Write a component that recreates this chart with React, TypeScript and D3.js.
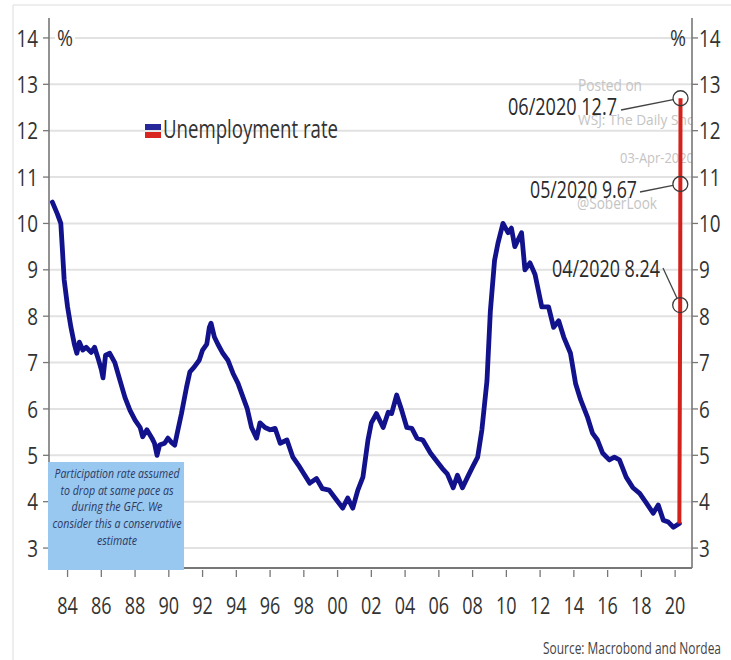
import React from 'react';
import * as d3 from 'd3';

// ---- data ----
const blueYears = [
  1983.1, 1983.4, 1983.6, 1983.7, 1983.8, 1984.0, 1984.2, 1984.4, 1984.55, 1984.7, 1984.9,
  1985.1, 1985.4, 1985.6, 1985.8, 1986.0, 1986.1, 1986.25, 1986.5, 1986.8, 1987.1, 1987.4,
  1987.7, 1988.0, 1988.3, 1988.45, 1988.7, 1989.0, 1989.15, 1989.3, 1989.45, 1989.75, 1989.95,
  1990.15, 1990.35, 1990.5, 1990.75, 1991.05, 1991.25, 1991.5, 1991.8, 1992.0, 1992.25, 1992.4,
  1992.5, 1992.7, 1992.9, 1993.2, 1993.5, 1993.8, 1994.1, 1994.4, 1994.65, 1994.9, 1995.2,
  1995.4, 1995.7, 1996.0, 1996.3, 1996.6, 1997.0, 1997.35, 1997.75, 1998.0, 1998.35, 1998.75,
  1999.1, 1999.5, 1999.95, 2000.3, 2000.6, 2000.9, 2001.2, 2001.5, 2001.8, 2002.0, 2002.3,
  2002.7, 2003.0, 2003.2, 2003.5, 2003.8, 2004.1, 2004.4, 2004.7, 2005.05, 2005.5, 2005.9,
  2006.2, 2006.5, 2006.85, 2007.1, 2007.4, 2007.7, 2008.0, 2008.3, 2008.55, 2008.85, 2009.05,
  2009.3, 2009.5, 2009.8, 2010.1, 2010.3, 2010.5, 2010.9, 2011.1, 2011.4, 2011.7, 2012.1,
  2012.5, 2012.8, 2013.1, 2013.4, 2013.8, 2014.1, 2014.4, 2014.8, 2015.1, 2015.4, 2015.7,
  2016.1, 2016.4, 2016.7, 2017.1, 2017.5, 2017.9, 2018.3, 2018.7, 2019.0, 2019.3, 2019.6,
  2019.9, 2020.25,
];
const blueRates = [
  10.46, 10.2, 10.0, 9.4, 8.78, 8.2, 7.76, 7.4, 7.2, 7.44, 7.27,
  7.33, 7.22, 7.33, 7.1, 6.85, 6.67, 7.16, 7.2, 7.0, 6.62, 6.25,
  5.97, 5.76, 5.6, 5.4, 5.55, 5.37, 5.26, 5.0, 5.22, 5.26, 5.37,
  5.28, 5.22, 5.48, 5.9, 6.47, 6.8, 6.9, 7.05, 7.27, 7.4, 7.76,
  7.85, 7.55, 7.4, 7.2, 7.05, 6.77, 6.55, 6.25, 6.0, 5.6, 5.37,
  5.7, 5.6, 5.55, 5.58, 5.26, 5.33, 4.96, 4.75, 4.6, 4.4, 4.5,
  4.28, 4.25, 4.03, 3.86, 4.08, 3.86, 4.25, 4.53, 5.33, 5.7, 5.9,
  5.6, 5.93, 5.9, 6.3, 5.97, 5.6, 5.58, 5.37, 5.33, 5.05, 4.86,
  4.72, 4.6, 4.3, 4.57, 4.3, 4.53, 4.75, 4.96, 5.55, 6.6, 8.1,
  9.2, 9.57, 10.0, 9.8, 9.9, 9.5, 9.8, 9.0, 9.15, 8.9, 8.2,
  8.2, 7.76, 7.9, 7.55, 7.2, 6.55, 6.2, 5.83, 5.48, 5.33, 5.05,
  4.9, 4.96, 4.9, 4.53, 4.3, 4.18, 3.97, 3.75, 3.93, 3.6, 3.56,
  3.45, 3.53,
];
const redYears = [2020.25, 2020.3, 2020.31, 2020.32];
const redRates = [3.53, 8.24, 10.85, 12.7];
const annotationLabels = ['04/2020 8.24', '05/2020 9.67', '06/2020 12.7'];
const yTicks = [3, 4, 5, 6, 7, 8, 9, 10, 11, 12, 13, 14];
const xTickYears = [1984, 1986, 1988, 1990, 1992, 1994, 1996, 1998, 2000, 2002, 2004, 2006, 2008, 2010, 2012, 2014, 2016, 2018, 2020];
const xTickLabels = ['84', '86', '88', '90', '92', '94', '96', '98', '00', '02', '04', '06', '08', '10', '12', '14', '16', '18', '20'];
const legendLabel = 'Unemployment rate';
const noteLines = ['Participation rate assumed', 'to drop at same pace as', 'during the GFC. We', 'consider this a conservative', 'estimate'];
const sourceText = 'Source: Macrobond and Nordea';
const watermarkLines = ['Posted on', 'WSJ: The Daily Shot', '03-Apr-2020', '@SoberLook'];

const FONT = "'Liberation Sans Narrow', 'Open Sans', 'DejaVu Sans', sans-serif";

export default function App() {
  const W = 731, H = 660;
  const left = 49, right = 692, top = 18, bottom = 568;
  const x = d3.scaleLinear().domain([1982.9, 2021.0]).range([left, right]);
  const y = d3.scaleLinear().domain([2.57, 14.43]).range([bottom, top]);

  const line = d3.line<[number, number]>().x(d => x(d[0])).y(d => y(d[1]));
  const bluePts: [number, number][] = blueYears.map((yr, i) => [yr, blueRates[i]]);
  const redPts: [number, number][] = redYears.map((yr, i) => [yr, redRates[i]]);

  const digitW = 10.8;

  // annotation layout: text start x, text width, baseline, leader start
  const annLayout = [
    { tx: 552, tw: 108, by: 277, lx: 663, ly: 268 },
    { tx: 530, tw: 107, by: 198, lx: 640, ly: 192 },
    { tx: 508, tw: 109, by: 115, lx: 621, ly: 110 },
  ];
  const r = 7.5;

  const wm = [
    { x: 578, y: 91, fs: 17, w: 64 },
    { x: 578, y: 125, fs: 14, w: 122 },
    { x: 620, y: 163, fs: 14, w: 74 },
    { x: 577, y: 209, fs: 16, w: 80 },
  ];
  const noteW = [125, 113, 91, 129, 40];

  return (
    <svg width={W} height={H} style={{ position: 'absolute', left: 0, top: 0, background: '#fff' }} fontFamily={FONT}>
      <defs>
        <clipPath id="plotclip">
          <rect x={left} y={top} width={right - left} height={bottom - top} />
        </clipPath>
      </defs>
      {/* faint frame */}
      <line x1={13} y1={5} x2={W} y2={5} stroke="#e8e8e8" strokeWidth={1.5} />
      <line x1={13} y1={5} x2={13} y2={H} stroke="#e8e8e8" strokeWidth={1.5} />

      {/* gridlines */}
      {yTicks.map(t => (
        <line key={'g' + t} x1={left} x2={right} y1={y(t)} y2={y(t)} stroke="#e2e2e2" strokeWidth={2} />
      ))}

      {/* watermark */}
      <g clipPath="url(#plotclip)" fill="#c4c4c4">
        {watermarkLines.map((s, i) => (
          <text key={s} x={wm[i].x} y={wm[i].y} fontSize={wm[i].fs} textLength={wm[i].w} lengthAdjust="spacingAndGlyphs">{s}</text>
        ))}
      </g>

      {/* % labels */}
      <rect x={55} y={26} width={20} height={22} fill="#fff" />
      <text x={57} y={46} fontSize={22} fill="#333" textLength={16} lengthAdjust="spacingAndGlyphs">%</text>
      <text x={670} y={46} fontSize={22} fill="#333" textLength={16} lengthAdjust="spacingAndGlyphs">%</text>

      {/* axes */}
      <line x1={left} x2={left} y1={top} y2={bottom} stroke="#777" strokeWidth={1.6} />
      <line x1={right} x2={right} y1={top} y2={bottom} stroke="#777" strokeWidth={1.6} />
      <line x1={left} x2={right} y1={bottom} y2={bottom} stroke="#777" strokeWidth={1.8} />
      {yTicks.map(t => (
        <g key={'yt' + t}>
          <line x1={left - 6} x2={left} y1={y(t)} y2={y(t)} stroke="#777" strokeWidth={1.3} />
          <line x1={right} x2={right + 6} y1={y(t)} y2={y(t)} stroke="#777" strokeWidth={1.3} />
          <text x={38} y={y(t)} dy="0.36em" fontSize={24} fill="#333" textAnchor="end"
            textLength={String(t).length * digitW} lengthAdjust="spacingAndGlyphs">{t}</text>
          <text x={699} y={y(t)} dy="0.36em" fontSize={24} fill="#333"
            textLength={String(t).length * digitW} lengthAdjust="spacingAndGlyphs">{t}</text>
        </g>
      ))}
      {xTickYears.map((yr, i) => (
        <g key={'xt' + yr}>
          <line x1={x(yr)} x2={x(yr)} y1={bottom + 2} y2={bottom + 9} stroke="#777" strokeWidth={1.3} />
          <text x={x(yr)} y={614} fontSize={24} fill="#333" textAnchor="middle"
            textLength={2 * digitW - 1} lengthAdjust="spacingAndGlyphs">{xTickLabels[i]}</text>
        </g>
      ))}

      {/* series */}
      <path d={line(bluePts) || ''} fill="none" stroke="#12128c" strokeWidth={4.8} strokeLinejoin="round" strokeLinecap="round" />
      <path d={line(redPts) || ''} fill="none" stroke="#d3211c" strokeWidth={4} strokeLinejoin="round" />

      {/* annotations */}
      {annotationLabels.map((lab, i) => {
        const cx = x(redYears[i + 1]);
        const cy = y(redRates[i + 1]);
        const L = annLayout[i];
        const dx = L.lx - cx, dy = L.ly - cy;
        const len = Math.hypot(dx, dy);
        return (
          <g key={lab}>
            <circle cx={cx} cy={cy} r={r} fill="none" stroke="#3a3a3a" strokeWidth={1.3} />
            <line x1={L.lx} y1={L.ly} x2={cx + (dx / len) * r} y2={cy + (dy / len) * r} stroke="#444" strokeWidth={1.3} />
            <text x={L.tx} y={L.by} fontSize={24} fill="#2a2a2a" textLength={L.tw} lengthAdjust="spacingAndGlyphs">{lab}</text>
          </g>
        );
      })}

      {/* legend */}
      <rect x={145} y={124} width={16} height={6} fill="#27279c" />
      <rect x={145} y={132} width={16} height={6} fill="#d8251f" />
      <text x={163} y={138} fontSize={25} fill="#333" textLength={175} lengthAdjust="spacingAndGlyphs">{legendLabel}</text>

      {/* note box */}
      <rect x={48} y={462} width={136} height={108} fill="#98c7ef" />
      {noteLines.map((s, i) => (
        <text key={s} x={117} y={478 + i * 16.7} fontSize={13.5} fontStyle="italic" fill="#2b3a64" textAnchor="middle"
          textLength={noteW[i]} lengthAdjust="spacingAndGlyphs">{s}</text>
      ))}

      {/* source */}
      <text x={721} y={654} fontSize={17} fill="#444" textAnchor="end" textLength={178} lengthAdjust="spacingAndGlyphs">{sourceText}</text>
    </svg>
  );
}
